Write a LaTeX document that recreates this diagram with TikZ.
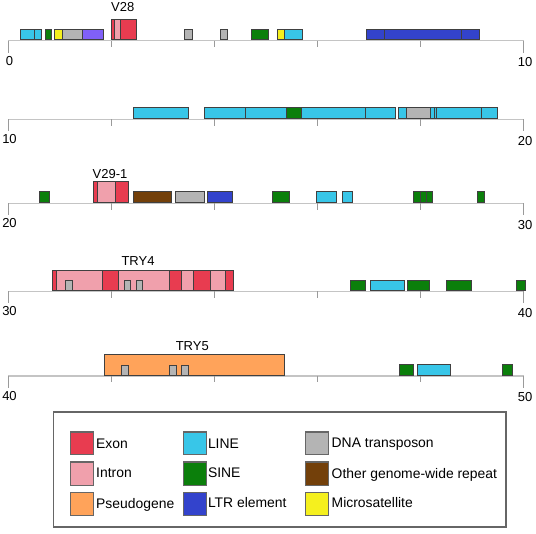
\documentclass[tikz,border=0pt]{standalone}
\usepackage{fontspec}
\setmainfont{Liberation Sans}
\definecolor{exon}{HTML}{E83C50}
\definecolor{intron}{HTML}{F0A0AC}
\definecolor{pseudo}{HTML}{FFA35A}
\definecolor{lineC}{HTML}{38C6E8}
\definecolor{sineC}{HTML}{0B7F0B}
\definecolor{ltrC}{HTML}{3343CC}
\definecolor{dnaC}{HTML}{B4B4B4}
\definecolor{otherC}{HTML}{73400A}
\definecolor{microC}{HTML}{F5F01E}
\definecolor{purpC}{HTML}{8060F8}
\definecolor{boxline}{HTML}{404040}
\definecolor{axisgrey}{HTML}{C4C4C4}
\definecolor{tickgrey}{HTML}{9A9A9A}
\definecolor{legline}{HTML}{666666}
\newcommand{\reprect}[4]{\draw[bx,fill=#1] (#2,#4-11.5) rectangle (#3,#4-1);}
\newcommand{\genrect}[4]{\draw[bx,fill=#1] (#2,#4-21.5) rectangle (#3,#4-1);}
\newcommand{\innrect}[4]{\draw[bx,fill=#1] (#2,#4-11) rectangle (#3,#4-1);}
\newcommand{\trackaxis}[4]{%
  \draw[axisl] (8,#1) -- (523.5,#1);
  \draw[tk] (8,#1) -- (8,#1+12);
  \draw[tk] (523.5,#1) -- (523.5,#1+12);
  \foreach \k in {1,2,3,4} {\draw[tk] (8+103.1*\k,#1) -- (8+103.1*\k,#1+6.5);}
  \node[lbl,anchor=base] (#4L) at (9.5,#1+24.5) {#2};
  \node[lbl,anchor=base] (#4R) at (525,#1+26) {#3};
}
\begin{document}
\begin{tikzpicture}[x=1pt,y=-1pt,
  bx/.style={draw=boxline,line width=0.9pt},
  axisl/.style={draw=axisgrey,line width=1.4pt},
  tk/.style={draw=tickgrey,line width=1pt},
  lbl/.style={font=\fontsize{13}{15}\selectfont,inner sep=0pt},
  legtxt/.style={font=\fontsize{13.9}{16}\selectfont,inner sep=0pt,anchor=base west},
  sw/.style={draw=legline,line width=1.1pt}]
\useasboundingbox (0,0) rectangle (536,534);

% ---------- Row 1 ----------
\trackaxis{40.8}{0}{10}{ra}
\reprect{lineC}{20.3}{34.3}{40.8}
\reprect{lineC}{34.3}{41.3}{40.8}
\reprect{sineC}{45.3}{51.7}{40.8}
\reprect{microC}{54.3}{62.7}{40.8}
\reprect{dnaC}{62.7}{82.7}{40.8}
\reprect{purpC}{82.7}{103.3}{40.8}
\genrect{exon}{111.3}{114.7}{40.8}
\genrect{intron}{114.7}{120.7}{40.8}
\genrect{exon}{120.7}{136.3}{40.8}
\node[lbl,anchor=base] (gV28) at (122.7,11.7) {V28};
\reprect{dnaC}{184.3}{192.3}{40.8}
\reprect{dnaC}{220.3}{227.7}{40.8}
\reprect{sineC}{251}{268.5}{40.8}
\reprect{microC}{277.3}{284}{40.8}
\reprect{lineC}{284}{302.7}{40.8}
\reprect{ltrC}{366}{384.3}{40.8}
\reprect{ltrC}{384.3}{461.7}{40.8}
\reprect{ltrC}{461.7}{479.3}{40.8}

% ---------- Row 2 ----------
\trackaxis{119.3}{10}{20}{rb}
\reprect{lineC}{133.3}{188}{119.3}
\reprect{lineC}{204}{245.7}{119.3}
\reprect{lineC}{245.7}{286.3}{119.3}
\reprect{sineC}{286.3}{301.7}{119.3}
\reprect{lineC}{301.7}{365}{119.3}
\reprect{lineC}{365}{395.7}{119.3}
\reprect{lineC}{398}{406.7}{119.3}
\reprect{dnaC}{406.7}{430.7}{119.3}
\reprect{lineC}{430.7}{434}{119.3}
\reprect{lineC}{434}{436.3}{119.3}
\reprect{lineC}{436.3}{481.3}{119.3}
\reprect{lineC}{481.3}{497.3}{119.3}

% ---------- Row 3 ----------
\trackaxis{203.3}{20}{30}{rc}
\reprect{sineC}{39.3}{49.7}{203.3}
\genrect{exon}{93.3}{97.7}{203.3}
\genrect{intron}{97.7}{115.7}{203.3}
\genrect{exon}{115.7}{128.7}{203.3}
\node[lbl,anchor=base] (gV29) at (110,178.3) {V29-1};
\reprect{otherC}{133.3}{171.7}{203.3}
\reprect{dnaC}{175.3}{204.7}{203.3}
\reprect{ltrC}{207.3}{232.3}{203.3}
\reprect{sineC}{272.3}{289}{203.3}
\reprect{lineC}{316.7}{336.7}{203.3}
\reprect{lineC}{342.3}{352.7}{203.3}
\reprect{sineC}{413.7}{420.3}{203.3}
\reprect{sineC}{420.3}{426.7}{203.3}
\reprect{sineC}{426.7}{432.7}{203.3}
\reprect{sineC}{477.3}{484}{203.3}

% ---------- Row 4 ----------
\trackaxis{291.5}{30}{40}{rd}
\genrect{exon}{52.3}{56}{291.5}
\genrect{intron}{56}{102}{291.5}
\genrect{exon}{102}{118.7}{291.5}
\genrect{intron}{118.7}{169.3}{291.5}
\genrect{exon}{169.3}{181}{291.5}
\genrect{intron}{181}{193.3}{291.5}
\genrect{exon}{193.3}{210.3}{291.5}
\genrect{intron}{210.3}{225.7}{291.5}
\genrect{exon}{225.7}{233.7}{291.5}
\innrect{dnaC}{65.7}{72.3}{291.5}
\innrect{dnaC}{124.3}{130.3}{291.5}
\innrect{dnaC}{136.3}{142.7}{291.5}
\node[lbl,anchor=base] (gTRY4) at (138,266) {TRY4};
\reprect{sineC}{350.3}{365}{291.5}
\reprect{lineC}{370.3}{404.7}{291.5}
\reprect{sineC}{407.3}{429.7}{291.5}
\reprect{sineC}{446.3}{471.3}{291.5}
\reprect{sineC}{516}{525.3}{291.5}

% ---------- Row 5 ----------
\trackaxis{376}{40}{50}{re}
\genrect{pseudo}{104}{284.3}{376}
\innrect{dnaC}{121.3}{128}{376}
\innrect{dnaC}{169.7}{176.3}{376}
\innrect{dnaC}{181.7}{188.7}{376}
\node[lbl,anchor=base] (gTRY5) at (192.3,351) {TRY5};
\reprect{sineC}{399.3}{413.7}{376}
\reprect{lineC}{417.3}{450.7}{376}
\reprect{sineC}{502.3}{512}{376}

% ---------- Legend ----------
\draw[draw=legline,line width=1.1pt] (53.3,412) rectangle (506,527);
\draw[sw,fill=exon]   (70.7,432) rectangle (93.7,454.3);
\draw[sw,fill=intron] (70.7,462) rectangle (93.7,485.3);
\draw[sw,fill=pseudo] (70.7,492.3) rectangle (93.7,515.7);
\draw[sw,fill=lineC]  (183.3,432) rectangle (206.3,454.3);
\draw[sw,fill=sineC]  (183.3,462) rectangle (206.3,485.3);
\draw[sw,fill=ltrC]   (183.3,492.3) rectangle (206.3,515.7);
\draw[sw,fill=dnaC]   (305.3,432) rectangle (328.7,454.3);
\draw[sw,fill=otherC] (305.3,462) rectangle (328.7,485.3);
\draw[sw,fill=microC] (305.3,492.3) rectangle (328.7,515.7);
\node[legtxt] (tExon) at (96,448.5) {Exon};
\node[legtxt] (tIntron) at (96,477.3) {Intron};
\node[legtxt] (tPseudo) at (96,508.3) {Pseudogene};
\node[legtxt] (tLine) at (207.8,448.8) {LINE};
\node[legtxt] (tSine) at (207.8,477.3) {SINE};
\node[legtxt] (tLtr) at (207.8,508) {LTR element};
\node[legtxt] (tDna) at (331.5,447.5) {DNA transposon};
\node[legtxt] (tOther) at (331.5,478.5) {Other genome-wide repeat};
\node[legtxt] (tMicro) at (331.5,508) {Microsatellite};
\end{tikzpicture}
\end{document}
